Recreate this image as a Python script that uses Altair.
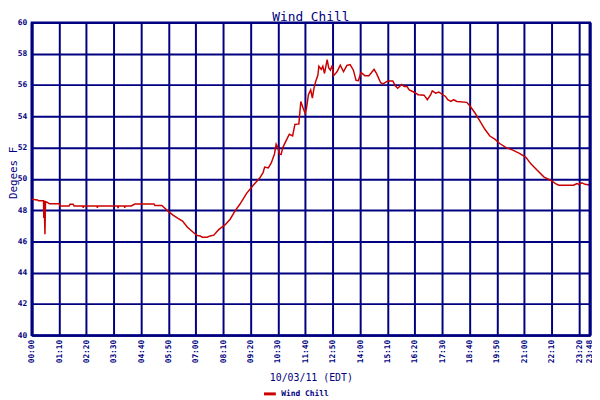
import altair as alt
import pandas as pd

# time of day in minutes after midnight
minutes = [0, 15, 17.6, 30.3, 31, 31.8, 34, 35.3, 40.3, 45.4, 70.6, 73.1, 95.8, 98.3, 105.9, 108.4,
           131, 132, 133, 167, 168, 169, 220, 221, 222, 237, 238, 239, 254.7, 263.7, 312.7, 315.2,
           332.8, 337.9, 348, 360.6, 373.2, 385.8, 398.4, 415.3, 423.6, 431.2, 436.2, 448.8, 456.4,
           465.7, 478.3, 495, 507.6, 520.2, 532.8, 549.7, 566.6, 583.2, 591.8, 595.8, 605.2, 612.7,
           621, 625.3, 629.5, 633.6, 637.9, 642.2, 650.5, 658.9, 667.4, 673.2, 680, 683.3, 688.4,
           694.2, 699.2, 702.7, 707.8, 713.6, 717.9, 721.9, 726.2, 732, 734.5, 740.6, 744.6, 748.9,
           755.7, 759.7, 764, 768.3, 772.3, 780.9, 789.2, 797.6, 806.1, 814.5, 822.8, 829.6, 835.4,
           842.2, 852.3, 862.4, 869.2, 875.7, 881.8, 892.6, 898.4, 911, 923.6, 930.4, 936.2, 946.3,
           953.1, 959.9, 965.7, 978.3, 988.4, 1003.6, 1011.9, 1020.5, 1024.5, 1033.1, 1041.4, 1049.7,
           1058.3, 1064.1, 1072.4, 1079.2, 1087.6, 1112.8, 1121.4, 1133.9, 1146.5, 1159.1, 1171.8,
           1184.4, 1197, 1213.6, 1230.5, 1247.4, 1264, 1276.7, 1293.6, 1310.4, 1327.1, 1339.7,
           1348.3, 1386.1, 1394.4, 1399.4, 1407, 1415.3, 1427]
wind_chill = [48.7, 48.65, 48.6, 48.6, 47.5, 48.6, 46.45, 48.55, 48.5, 48.4, 48.4, 48.27, 48.27, 48.38, 48.38, 48.27,
              48.27, 48.15, 48.27, 48.27, 48.15, 48.27, 48.27, 48.12, 48.27, 48.27, 48.15, 48.27, 48.27, 48.39, 48.39, 48.3,
              48.3, 48.18, 47.95, 47.7, 47.49, 47.3, 46.9, 46.54, 46.37, 46.35, 46.27, 46.27, 46.35,
              46.4, 46.75, 47.07, 47.42, 47.95, 48.39, 49.07, 49.59, 50.05, 50.4, 50.75, 50.7, 51.02,
              51.59, 52.22, 52.0, 51.59, 51.55, 52.0, 52.43, 52.85, 52.75, 53.48, 53.5, 53.5, 54.95,
              54.53, 54.2, 54.5, 55.38, 55.69, 55.16, 55.79, 56.21, 56.64, 57.2, 57.0, 57.2, 56.74,
              57.62, 57.1, 56.95, 57.25, 56.6, 56.85, 57.27, 56.85, 57.25, 57.31, 56.95, 56.3, 56.28,
              56.8, 56.6, 56.6, 56.8, 57.0, 56.74, 56.15, 56.07, 56.26, 56.26, 55.94, 55.79, 56.04,
              55.9, 55.9, 55.69, 55.54, 55.38, 55.35, 55.06, 55.38, 55.63, 55.48, 55.55, 55.41,
              55.27, 55.06, 54.95, 55.06, 54.95, 54.89, 54.64, 54.21, 53.69, 53.17, 52.74,
              52.54, 52.26, 52.0, 51.84, 51.63, 51.38, 50.96, 50.54, 50.11, 49.91, 49.7,
              49.59, 49.59, 49.7, 49.65, 49.75, 49.65, 49.6]
x_ticks = [0, 70, 140, 210, 280, 350, 420, 490, 560, 630, 700, 770, 840, 910, 980, 1050,
           1120, 1190, 1260, 1330, 1400, 1428]
y_ticks = [40, 42, 44, 46, 48, 50, 52, 54, 56, 58, 60]
series_name = "Wind Chill"
chart_title = "Wind Chill"

NAVY = "#000080"
RED = "#CC0000"
MONO = "DejaVu Sans Mono"

df = pd.DataFrame({"t": minutes, "v": wind_chill, "s": [series_name] * len(minutes)})

label_expr = ("(floor(datum.value/60) < 10 ? '0' : '') + floor(datum.value/60) + ':' + "
              "(datum.value % 60 < 10 ? '0' : '') + (datum.value % 60)")

x_axis = alt.Axis(values=x_ticks, labelExpr=label_expr, labelAngle=270,
                  labelOverlap=False, labelBound=False, labelPadding=4, title="10/03/11 (EDT)",
                  titleFontSize=10, titleFont=MONO, titleFontWeight="normal",
                  titleY=43, titleBaseline="middle")
x_enc = alt.X("t:Q", scale=alt.Scale(domain=[0, 1428], nice=False, zero=False), axis=x_axis)

line = alt.Chart(df).mark_line(strokeWidth=1.5, clip=True).encode(
    x=x_enc,
    y=alt.Y("v:Q",
            scale=alt.Scale(domain=[40, 60], nice=False, zero=False),
            axis=alt.Axis(values=y_ticks, title="Degees F", labelPadding=5,
                          titleFontSize=11, titleFont=MONO, titleFontWeight="normal",
                          titleX=-18, titleY=152, titleAngle=270, titleAlign="center",
                          titleBaseline="middle", domainWidth=3)),
    color=alt.Color("s:N", scale=alt.Scale(domain=[series_name], range=[RED]),
                    legend=alt.Legend(title=None, orient="none", legendX=234, legendY=369,
                                      symbolType="stroke", symbolSize=144, symbolStrokeWidth=3,
                                      labelFont=MONO, labelFontSize=8, labelFontWeight="bold",
                                      labelColor=NAVY)),
)

right_border = alt.Chart(pd.DataFrame({"t": [1428]})).mark_rule(color=NAVY, strokeWidth=3).encode(
    x=x_enc)

title_text = alt.Chart(pd.DataFrame({"label": [chart_title]})).mark_text(
    font=MONO, fontSize=13, color=NAVY, align="center", baseline="alphabetic"
).encode(text="label:N", x=alt.value(283), y=alt.value(-2))

chart = alt.layer(line, right_border, title_text).properties(
    width=566, height=317,
    autosize=alt.AutoSizeParams(type="none"),
    padding={"left": 24, "top": 12, "right": 2, "bottom": 63},
).configure_axis(
    domainColor=NAVY, domainWidth=2, gridColor=NAVY, gridWidth=2, gridOpacity=1,
    labelColor=NAVY, titleColor=NAVY, labelFont=MONO, labelFontSize=8, labelFontWeight="bold",
    tickSize=0,
).configure_axisX(labelOverlap=False, labelBound=False
).configure_view(stroke=NAVY, strokeWidth=2)

chart.save("out.html", embed_options={"renderer": "svg", "actions": False})
